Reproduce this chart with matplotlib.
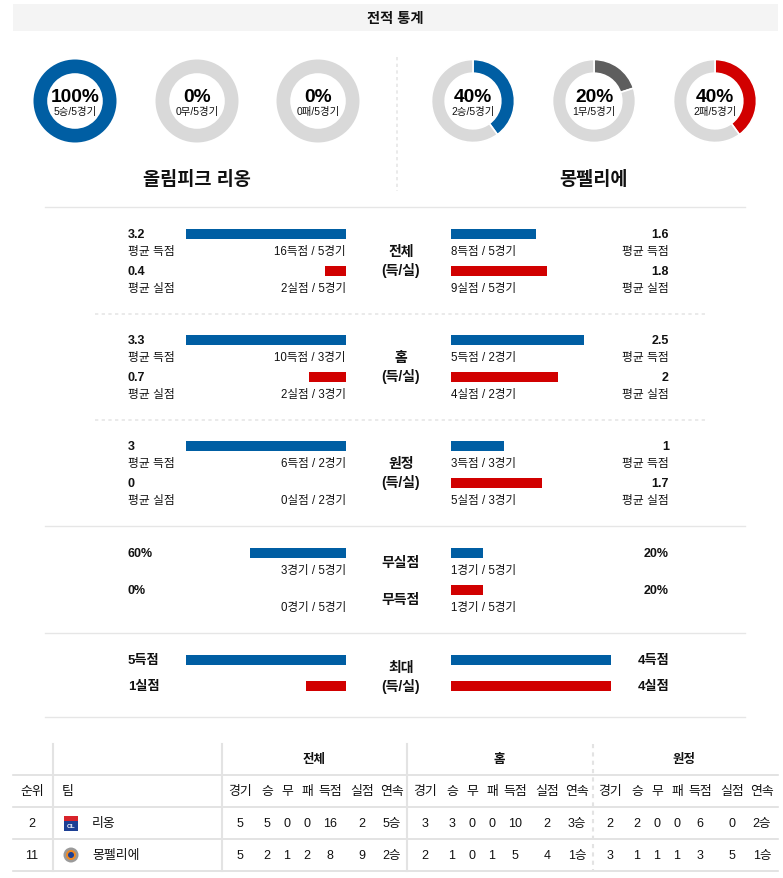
"""
Head-to-head stats card (전적 통계): Olympique Lyon vs Montpellier.
Donut rings for W/D/L share, paired bar rows for goals, and a small standings table.
"""
import matplotlib
matplotlib.use("Agg")
import matplotlib.pyplot as plt
from matplotlib.patches import Rectangle, Circle

plt.rcParams["font.family"] = ["Liberation Sans", "Noto Sans CJK KR", "DejaVu Sans"]

BLUE = "#005ea3"
RED = "#d10000"
RING = "#d9d9d9"
DRAW = "#5e5e5e"
LINE = "#e6e6e6"
TXT = "#111111"

W, H = 783, 879

# --- data ---
teams = ["올림피크 리옹", "몽펠리에"]
games = [5, 5]
wins = [5, 2]
draws = [0, 1]
losses = [0, 2]

split_labels = ["전체", "홈", "원정"]
lyon_avg_for = [3.2, 3.3, 3]
lyon_avg_against = [0.4, 0.7, 0]
lyon_goals_for = [16, 10, 6]
lyon_goals_against = [2, 2, 0]
lyon_games = [5, 3, 2]
mhsc_avg_for = [1.6, 2.5, 1]
mhsc_avg_against = [1.8, 2, 1.7]
mhsc_goals_for = [8, 5, 3]
mhsc_goals_against = [9, 4, 5]
mhsc_games = [5, 2, 3]

clean_sheets = [3, 1]      # 무실점
failed_to_score = [0, 1]   # 무득점
max_scored = [5, 4]
max_conceded = [1, 4]

table_groups = ["전체", "홈", "원정"]
table_cols = ["경기", "승", "무", "패", "득점", "실점", "연속"]
table_rank = [2, 11]
table_names = ["리옹", "몽펠리에"]
table_rows = [
    [5, 5, 0, 0, 16, 2, "5승", 3, 3, 0, 0, 10, 2, "3승", 2, 2, 0, 0, 6, 0, "2승"],
    [5, 2, 1, 2, 8, 9, "2승", 2, 1, 0, 1, 5, 4, "1승", 3, 1, 1, 1, 3, 5, "1승"],
]

AVG_FULL = 3.0   # avg goals that fill a bar
MAX_FULL = 4.0   # max goals that fill a bar
BAR_W = 160
L_END, R_START = 346, 451


def fmt(v):
    return f"{v:g}"


fig = plt.figure(figsize=(W / 100, H / 100), dpi=100)
ax = fig.add_axes([0, 0, 1, 1])
ax.set_xlim(0, W)
ax.set_ylim(H, 0)
ax.axis("off")

# title bar
ax.add_patch(Rectangle((13, 5), 765, 27, color="#f4f4f4", lw=0))
ax.text(395, 18.5, "전적 통계", ha="center", va="center", fontsize=10.3,
        fontweight="bold", color=TXT)

# --- donuts ---
def donut(cx, cy, pct, color, big, small):
    r = 41.5
    dax = fig.add_axes([(cx - r) / W, (H - cy - r) / H, 2 * r / W, 2 * r / H])
    dax.set_aspect("equal")
    lw = 1.2 if 0 < pct < 100 else 0
    dax.pie([pct, 100 - pct], colors=[color, RING], startangle=90, counterclock=False,
            radius=1, wedgeprops=dict(width=0.33, edgecolor="white", linewidth=lw))
    dax.set_xlim(-1, 1)
    dax.set_ylim(-1, 1)
    ax.text(cx, cy - 4, big, ha="center", va="center", fontsize=13.8,
            fontweight="bold", color="black")
    ax.text(cx, cy + 10, small, ha="center", va="center", fontsize=7.5, color=TXT)


centers = [[75, 197, 318], [473, 594, 715]]
for i in range(2):
    parts = [(wins[i], BLUE, "승"), (draws[i], DRAW, "무"), (losses[i], RED, "패")]
    for (n, col, lab), cx in zip(parts, centers[i]):
        pct = round(100 * n / games[i])
        donut(cx, 102, pct, col, f"{pct}%", f"{n}{lab}/{games[i]}경기")
    ax.text(centers[i][1], 180, teams[i], ha="center", va="center", fontsize=13.4,
            fontweight="bold", color=TXT)

ax.plot([397, 397], [58, 192], color=LINE, lw=1.2, ls=(0, (2, 2)))

# separators
for y in [208, 527, 634, 718]:
    ax.plot([45, 745], [y, y], color=LINE, lw=1)
for y in [315, 421]:
    ax.plot([95, 705], [y, y], color=LINE, lw=1.2, ls=(0, (2, 2)))


def left_bar(y, width, color):
    if width > 0:
        ax.barh(y + 5, width, height=10.5, left=L_END - width, color=color, lw=0)


def right_bar(y, width, color):
    if width > 0:
        ax.barh(y + 5, width, height=10.5, left=R_START, color=color, lw=0)


# --- avg sections ---
for k, lab in enumerate(split_labels):
    y0 = 230 + k * 106
    y1 = y0 + 37
    lf = min(lyon_avg_for[k], AVG_FULL) / AVG_FULL * BAR_W
    la = min(lyon_avg_against[k], AVG_FULL) / AVG_FULL * BAR_W
    rf = min(mhsc_avg_for[k], AVG_FULL) / AVG_FULL * BAR_W
    ra = min(mhsc_avg_against[k], AVG_FULL) / AVG_FULL * BAR_W
    left_bar(y0, lf, BLUE)
    left_bar(y1, la, RED)
    right_bar(y0, rf, BLUE)
    right_bar(y1, ra, RED)

    for yy, val, sub in [(y0, lyon_avg_for[k], "평균 득점"), (y1, lyon_avg_against[k], "평균 실점")]:
        ax.text(128, yy + 5, fmt(val), ha="left", va="center", fontsize=9,
                fontweight="bold", color=TXT)
        ax.text(128, yy + 22, sub, ha="left", va="center", fontsize=8.5, color=TXT)
    for yy, val, sub in [(y0, mhsc_avg_for[k], "평균 득점"), (y1, mhsc_avg_against[k], "평균 실점")]:
        ax.text(669, yy + 5, fmt(val), ha="right", va="center", fontsize=9,
                fontweight="bold", color=TXT)
        ax.text(669, yy + 22, sub, ha="right", va="center", fontsize=8.5, color=TXT)

    ax.text(L_END, y0 + 22, f"{lyon_goals_for[k]}득점 / {lyon_games[k]}경기",
            ha="right", va="center", fontsize=8.3, color=TXT)
    ax.text(L_END, y1 + 22, f"{lyon_goals_against[k]}실점 / {lyon_games[k]}경기",
            ha="right", va="center", fontsize=8.3, color=TXT)
    ax.text(R_START, y0 + 22, f"{mhsc_goals_for[k]}득점 / {mhsc_games[k]}경기",
            ha="left", va="center", fontsize=8.3, color=TXT)
    ax.text(R_START, y1 + 22, f"{mhsc_goals_against[k]}실점 / {mhsc_games[k]}경기",
            ha="left", va="center", fontsize=8.3, color=TXT)

    ax.text(401, y0 + 22, lab, ha="center", va="center", fontsize=10,
            fontweight="bold", color=TXT)
    ax.text(401, y0 + 41, "(득/실)", ha="center", va="center", fontsize=10,
            fontweight="bold", color=TXT)

# --- clean sheets / failed to score ---
y0, y1 = 549, 586
cs = [100 * c / g for c, g in zip(clean_sheets, games)]
fs = [100 * f / g for f, g in zip(failed_to_score, games)]
left_bar(y0, cs[0] / 100 * BAR_W, BLUE)
left_bar(y1, fs[0] / 100 * BAR_W, RED)
right_bar(y0, cs[1] / 100 * BAR_W, BLUE)
right_bar(y1, fs[1] / 100 * BAR_W, RED)
for yy, vals, cnt in [(y0, cs, clean_sheets), (y1, fs, failed_to_score)]:
    ax.text(128, yy + 5, f"{vals[0]:.0f}%", ha="left", va="center", fontsize=9,
            fontweight="bold", color=TXT)
    ax.text(669, yy + 5, f"{vals[1]:.0f}%", ha="right", va="center", fontsize=9,
            fontweight="bold", color=TXT)
    ax.text(L_END, yy + 22, f"{cnt[0]}경기 / {games[0]}경기", ha="right", va="center",
            fontsize=8.3, color=TXT)
    ax.text(R_START, yy + 22, f"{cnt[1]}경기 / {games[1]}경기", ha="left", va="center",
            fontsize=8.3, color=TXT)
ax.text(401, 563, "무실점", ha="center", va="center", fontsize=10, fontweight="bold", color=TXT)
ax.text(401, 600, "무득점", ha="center", va="center", fontsize=10, fontweight="bold", color=TXT)

# --- max goals ---
y0, y1 = 656, 682
left_bar(y0, min(max_scored[0], MAX_FULL) / MAX_FULL * BAR_W, BLUE)
left_bar(y1, min(max_conceded[0], MAX_FULL) / MAX_FULL * BAR_W, RED)
right_bar(y0, min(max_scored[1], MAX_FULL) / MAX_FULL * BAR_W, BLUE)
right_bar(y1, min(max_conceded[1], MAX_FULL) / MAX_FULL * BAR_W, RED)
for yy, vals, suf in [(y0, max_scored, "득점"), (y1, max_conceded, "실점")]:
    ax.text(128, yy + 5, f"{vals[0]}{suf}", ha="left", va="center", fontsize=9.5,
            fontweight="bold", color=TXT)
    ax.text(669, yy + 5, f"{vals[1]}{suf}", ha="right", va="center", fontsize=9.5,
            fontweight="bold", color=TXT)
ax.text(401, 668, "최대", ha="center", va="center", fontsize=10, fontweight="bold", color=TXT)
ax.text(401, 687, "(득/실)", ha="center", va="center", fontsize=10, fontweight="bold", color=TXT)

# --- table ---
TL, TR = 13, 778
for y in [776, 808, 840, 872]:
    ax.plot([TL, TR], [y, y], color="#dedede", lw=1.2)
for x in [53, 222, 407]:
    ax.plot([x, x], [745, 872], color="#e3e3e3", lw=1.5)
ax.plot([593, 593], [745, 872], color="#e3e3e3", lw=1.5, ls=(0, (2, 2)))

col_off = [240, 267, 287, 307, 330, 362, 392]
for g, grp in enumerate(table_groups):
    ax.text(314 + g * 185, 760, grp, ha="center", va="center", fontsize=9,
            fontweight="bold", color=TXT)
    for c, name in enumerate(table_cols):
        ax.text(col_off[c] + g * 185, 792, name, ha="center", va="center",
                fontsize=9.3, color=TXT)
ax.text(32, 792, "순위", ha="center", va="center", fontsize=9.3, color=TXT)
ax.text(62, 792, "팀", ha="left", va="center", fontsize=9.3, color=TXT)

for r in range(2):
    yy = 824 + r * 32
    ax.text(32, yy, str(table_rank[r]), ha="center", va="center", fontsize=9, color=TXT)
    ax.text(92, yy, table_names[r], ha="left", va="center", fontsize=9.3, color=TXT)
    for j, v in enumerate(table_rows[r]):
        g, c = divmod(j, 7)
        ax.text(col_off[c] + g * 185, yy, str(v), ha="center", va="center",
                fontsize=9, color=TXT)

# small club badges
ax.add_patch(Rectangle((64, 817), 14, 15, color="#1c3f94", lw=0))
ax.add_patch(Rectangle((64, 817), 14, 5, color="#d8232a", lw=0))
ax.text(71, 827, "OL", ha="center", va="center", fontsize=4.5, fontweight="bold", color="white")
ax.add_patch(Circle((71, 856), 7.5, color="#9a9a9a", lw=0))
ax.add_patch(Circle((71, 856), 5, color="#f08a24", lw=0))
ax.add_patch(Circle((71, 856), 3, color="#1c3f94", lw=0))

fig.savefig("out.png", dpi=100)
